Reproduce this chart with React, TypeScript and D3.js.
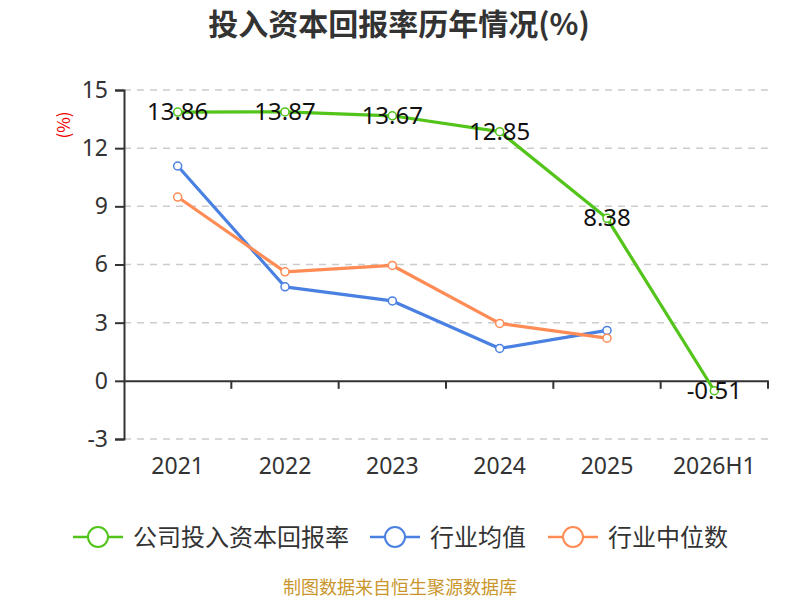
import { useEffect, useRef } from 'react';
import * as d3 from 'd3';

const categories = ['2021', '2022', '2023', '2024', '2025', '2026H1'];
const companyRoic = [13.86, 13.87, 13.67, 12.85, 8.38, -0.51];
const industryAvg = [11.08, 4.85, 4.12, 1.67, 2.6];
const industryMedian = [9.48, 5.62, 5.95, 2.96, 2.2];
const yTicks = [-3, 0, 3, 6, 9, 12, 15];

const seriesList = [
  { name: '公司投入资本回报率', values: companyRoic, color: '#52c41a', labels: true },
  { name: '行业均值', values: industryAvg, color: '#4a80e2', labels: false },
  { name: '行业中位数', values: industryMedian, color: '#ff8b55', labels: false },
];

const FONT = '"Noto Sans CJK SC", "Noto Sans", sans-serif';
const NUM_FONT = '"Noto Sans", "Open Sans", sans-serif';

export default function App() {
  const svgRef = useRef<SVGSVGElement>(null);

  useEffect(() => {
    if (!svgRef.current) return;
    const width = 800;
    const height = 600;
    const left = 124;
    const right = 768;
    const top = 90;
    const bottom = 439;

    const svg = d3.select(svgRef.current);
    svg.selectAll('*').remove();
    svg.attr('width', width).attr('height', height);

    const x = d3.scaleBand<string>().domain(categories).range([left, right]);
    const y = d3.scaleLinear().domain([-3, 15]).range([bottom, top]);
    const cx = (c: string) => (x(c) ?? 0) + x.bandwidth() / 2;

    // title
    svg
      .append('text')
      .attr('x', 399)
      .attr('y', 35)
      .attr('text-anchor', 'middle')
      .attr('font-size', 30)
      .attr('font-weight', 700)
      .attr('font-family', FONT)
      .attr('fill', '#333')
      .text('投入资本回报率历年情况(%)');

    // unit
    svg
      .append('text')
      .attr('transform', `translate(70,125) rotate(-90)`)
      .attr('text-anchor', 'middle')
      .attr('font-size', 17)
      .attr('font-family', FONT)
      .attr('fill', '#e00')
      .text('(%)');

    // grid
    svg
      .append('g')
      .selectAll('line')
      .data(yTicks.filter((t) => t !== 0))
      .join('line')
      .attr('x1', left)
      .attr('x2', right)
      .attr('y1', (d) => y(d))
      .attr('y2', (d) => y(d))
      .attr('stroke', '#ccc')
      .attr('stroke-width', 1.5)
      .attr('stroke-dasharray', '7,6');

    // y axis
    const yAxis = svg
      .append('g')
      .attr('transform', `translate(${left},0)`)
      .call(d3.axisLeft(y).tickValues(yTicks).tickSize(9).tickPadding(7).tickFormat(d3.format('d')));
    yAxis.select('.domain').attr('stroke', '#333').attr('stroke-width', 2);
    yAxis.selectAll('.tick line').attr('stroke', '#333').attr('stroke-width', 2);
    yAxis
      .selectAll('.tick text')
      .attr('font-size', 23)
      .attr('font-family', NUM_FONT)
      .attr('fill', '#333')
      .text((d: any) => (d < 0 ? `-${Math.abs(d)}` : String(d)));

    // x axis at zero
    const xAxis = svg
      .append('g')
      .attr('transform', `translate(0,${y(0)})`)
      .call(d3.axisBottom(x).tickSize(0).tickFormat(() => ''));
    xAxis.select('.domain').attr('stroke', '#333').attr('stroke-width', 2);
    xAxis.selectAll('.tick').remove();
    svg
      .append('g')
      .selectAll('line')
      .data(categories)
      .join('line')
      .attr('x1', (d) => (x(d) ?? 0) + x.step())
      .attr('x2', (d) => (x(d) ?? 0) + x.step())
      .attr('y1', y(0))
      .attr('y2', y(0) + 8)
      .attr('stroke', '#333')
      .attr('stroke-width', 2);

    // x labels
    svg
      .append('g')
      .selectAll('text')
      .data(categories)
      .join('text')
      .attr('x', (d) => cx(d))
      .attr('y', 474)
      .attr('text-anchor', 'middle')
      .attr('font-size', 23)
      .attr('font-family', NUM_FONT)
      .attr('fill', '#333')
      .text((d) => d);

    const line = d3
      .line<number>()
      .x((d, i) => cx(categories[i]))
      .y((d) => y(d));

    // lines
    seriesList.forEach((s) => {
      svg
        .append('path')
        .datum(s.values)
        .attr('d', line)
        .attr('fill', 'none')
        .attr('stroke', s.color)
        .attr('stroke-width', 3.2)
        .attr('stroke-linejoin', 'round');
    });

    seriesList.forEach((s) => {
      svg
        .append('g')
        .selectAll('circle')
        .data(s.values)
        .join('circle')
        .attr('cx', (d, i) => cx(categories[i]))
        .attr('cy', (d) => y(d))
        .attr('r', 4)
        .attr('fill', '#fff')
        .attr('stroke', s.color)
        .attr('stroke-width', 1.5);
    });

    seriesList
      .filter((s) => s.labels)
      .forEach((s) => {
        svg
          .append('g')
          .selectAll('text')
          .data(s.values)
          .join('text')
          .attr('x', (d, i) => cx(categories[i]))
          .attr('y', (d) => y(d) + 8)
          .attr('text-anchor', 'middle')
          .attr('font-size', 24)
          .attr('font-family', NUM_FONT)
          .attr('fill', '#111')
          .text((d) => d.toFixed(2));
      });

    // legend
    const legendX = [73, 370, 548];
    const lg = svg.append('g');
    seriesList.forEach((s, i) => {
      const g = lg.append('g').attr('transform', `translate(${legendX[i]},537)`);
      g.append('line').attr('x1', 0).attr('x2', 50).attr('y1', 0).attr('y2', 0).attr('stroke', s.color).attr('stroke-width', 2.5);
      g.append('circle').attr('cx', 25).attr('cy', 0).attr('r', 10).attr('fill', '#fff').attr('stroke', s.color).attr('stroke-width', 2);
      g.append('text')
        .attr('x', 60)
        .attr('y', 9)
        .attr('font-size', 24)
        .attr('font-family', FONT)
        .attr('fill', '#333')
        .text(s.name);
    });

    // source
    svg
      .append('text')
      .attr('x', 400)
      .attr('y', 594)
      .attr('text-anchor', 'middle')
      .attr('font-size', 18)
      .attr('font-family', FONT)
      .attr('fill', '#c9962c')
      .text('制图数据来自恒生聚源数据库');
  }, []);

  return <svg ref={svgRef} style={{ position: 'absolute', left: 0, top: 0, display: 'block' }} />;
}
